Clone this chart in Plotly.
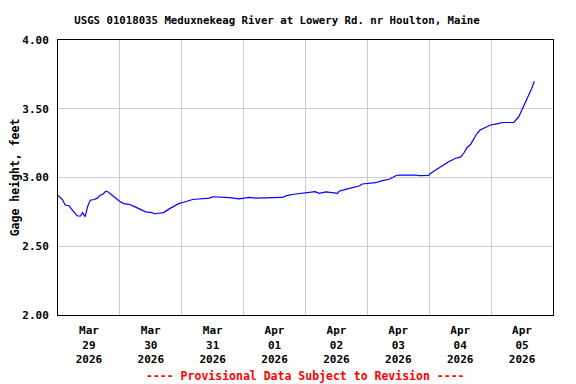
import plotly.graph_objects as go

times = [
    "2026-03-29 00:00", "2026-03-29 01:45", "2026-03-29 02:45", "2026-03-29 04:15",
    "2026-03-29 05:15", "2026-03-29 06:15", "2026-03-29 07:30", "2026-03-29 08:45",
    "2026-03-29 09:30", "2026-03-29 10:00", "2026-03-29 10:30", "2026-03-29 11:00",
    "2026-03-29 11:30", "2026-03-29 12:30", "2026-03-29 14:00", "2026-03-29 15:15",
    "2026-03-29 16:15", "2026-03-29 17:30", "2026-03-29 18:30", "2026-03-29 19:30",
    "2026-03-29 20:45", "2026-03-29 22:15", "2026-03-30 00:00", "2026-03-30 01:30",
    "2026-03-30 03:30", "2026-03-30 05:30", "2026-03-30 07:30", "2026-03-30 10:00",
    "2026-03-30 12:30", "2026-03-30 13:30", "2026-03-30 15:00", "2026-03-30 17:00",
    "2026-03-30 19:00", "2026-03-30 21:00", "2026-03-30 22:45", "2026-03-31 00:45",
    "2026-03-31 03:00", "2026-03-31 04:15", "2026-03-31 10:45", "2026-03-31 12:00",
    "2026-03-31 18:30", "2026-03-31 22:15", "2026-04-01 02:15", "2026-04-01 04:45",
    "2026-04-01 15:00", "2026-04-01 17:00", "2026-04-01 19:30", "2026-04-01 21:30",
    "2026-04-02 00:45", "2026-04-02 03:45", "2026-04-02 05:15", "2026-04-02 08:00",
    "2026-04-02 12:30", "2026-04-02 13:00", "2026-04-02 15:30", "2026-04-02 18:15",
    "2026-04-02 20:45", "2026-04-02 22:00", "2026-04-03 03:15", "2026-04-03 05:45",
    "2026-04-03 08:30", "2026-04-03 11:00", "2026-04-03 12:15", "2026-04-03 18:45",
    "2026-04-03 20:00", "2026-04-03 23:45", "2026-04-04 00:30", "2026-04-04 02:30",
    "2026-04-04 05:00", "2026-04-04 07:30", "2026-04-04 10:15", "2026-04-04 12:15",
    "2026-04-04 13:30", "2026-04-04 14:45", "2026-04-04 16:00", "2026-04-04 17:15",
    "2026-04-04 18:30", "2026-04-04 19:45", "2026-04-04 21:45", "2026-04-04 23:45",
    "2026-04-05 02:15", "2026-04-05 04:15", "2026-04-05 08:45", "2026-04-05 09:30",
    "2026-04-05 10:45", "2026-04-05 12:00", "2026-04-05 13:15", "2026-04-05 14:30",
    "2026-04-05 15:45", "2026-04-05 16:45",
]
gage_height = [
    2.87, 2.84, 2.80, 2.795, 2.77, 2.75, 2.72, 2.72, 2.745, 2.73, 2.715, 2.75,
    2.79, 2.835, 2.84, 2.85, 2.87, 2.88, 2.90, 2.895, 2.875, 2.855, 2.825, 2.81,
    2.805, 2.79, 2.77, 2.75, 2.745, 2.735, 2.74, 2.745, 2.77, 2.79, 2.81, 2.82,
    2.83, 2.84, 2.85, 2.86, 2.853, 2.845, 2.855, 2.85, 2.855, 2.87, 2.878, 2.882,
    2.89, 2.897, 2.885, 2.895, 2.885, 2.90, 2.914, 2.924, 2.938, 2.953, 2.962, 2.977,
    2.987, 3.013, 3.018, 3.018, 3.013, 3.015, 3.03, 3.055, 3.084, 3.115, 3.14, 3.15,
    3.18, 3.22, 3.24, 3.278, 3.32, 3.345, 3.365, 3.382, 3.39, 3.40, 3.40, 3.413,
    3.442, 3.495, 3.544, 3.593, 3.648, 3.70,
]

day_labels_at = ["2026-03-29 12:00", "2026-03-30 12:00", "2026-03-31 12:00", "2026-04-01 12:00",
                 "2026-04-02 12:00", "2026-04-03 12:00", "2026-04-04 12:00", "2026-04-05 12:00"]
day_labels = ["Mar<br>29<br>2026", "Mar<br>30<br>2026", "Mar<br>31<br>2026", "Apr<br>01<br>2026",
              "Apr<br>02<br>2026", "Apr<br>03<br>2026", "Apr<br>04<br>2026", "Apr<br>05<br>2026"]
y_ticks = [2.0, 2.5, 3.0, 3.5, 4.0]
y_tick_labels = ["2.00", "2.50", "3.00", "3.50", "4.00"]

title_text = "USGS 01018035 Meduxnekeag River at Lowery Rd. nr Houlton, Maine"
note_text = "---- Provisional Data Subject to Revision ----"

MONO = "DejaVu Sans Mono"
GRID = "#cccccc"

# the page body adds an 8px offset, so the figure is 8px smaller in each direction
W, H = 568, 376

fig = go.Figure()
fig.add_trace(go.Scatter(x=times, y=gage_height, mode="lines",
                         line=dict(color="#0000ff", width=1.2), showlegend=False,
                         hoverinfo="skip"))

fig.update_layout(
    width=W, height=H,
    margin=dict(l=50, r=23, t=32, b=69, autoexpand=False),
    paper_bgcolor="white", plot_bgcolor="white",
    title=dict(text=title_text, x=269 / W, xref="container", xanchor="center",
               y=1 - 12 / H, yref="container", yanchor="middle",
               font=dict(family=MONO, size=10.7, color="black", weight="bold")),
    xaxis=dict(
        type="date", range=["2026-03-29 00:00", "2026-04-06 00:00"],
        tickmode="array", tickvals=day_labels_at, ticktext=day_labels,
        showgrid=False, ticks="", zeroline=False, automargin=False,
        showline=True, linecolor="black", linewidth=1, mirror=True,
        ticklabelstandoff=5,
        tickfont=dict(family=MONO, size=11, color="black", weight="bold"),
        minor=dict(tick0="2026-03-29", dtick=86400000, showgrid=True,
                   gridcolor=GRID, gridwidth=1, ticks=""),
    ),
    yaxis=dict(
        range=[2.0, 4.0], tickmode="array", tickvals=y_ticks, ticktext=y_tick_labels,
        showgrid=True, gridcolor=GRID, gridwidth=1, zeroline=False, ticks="",
        showline=True, linecolor="black", linewidth=1, mirror=True, automargin=False,
        ticklabelstandoff=6,
        tickfont=dict(family=MONO, size=11, color="black", weight="bold"),
        title=dict(text="Gage height, feet", standoff=0,
                   font=dict(family=MONO, size=11.5, color="black", weight="bold")),
    ),
)

fig.add_annotation(text=note_text, xref="paper", yref="paper", x=0.5, y=-0.22,
                   xanchor="center", yanchor="middle", showarrow=False,
                   font=dict(family=MONO, size=11.5, color="red", weight="bold"))

fig.write_html("out.html")
